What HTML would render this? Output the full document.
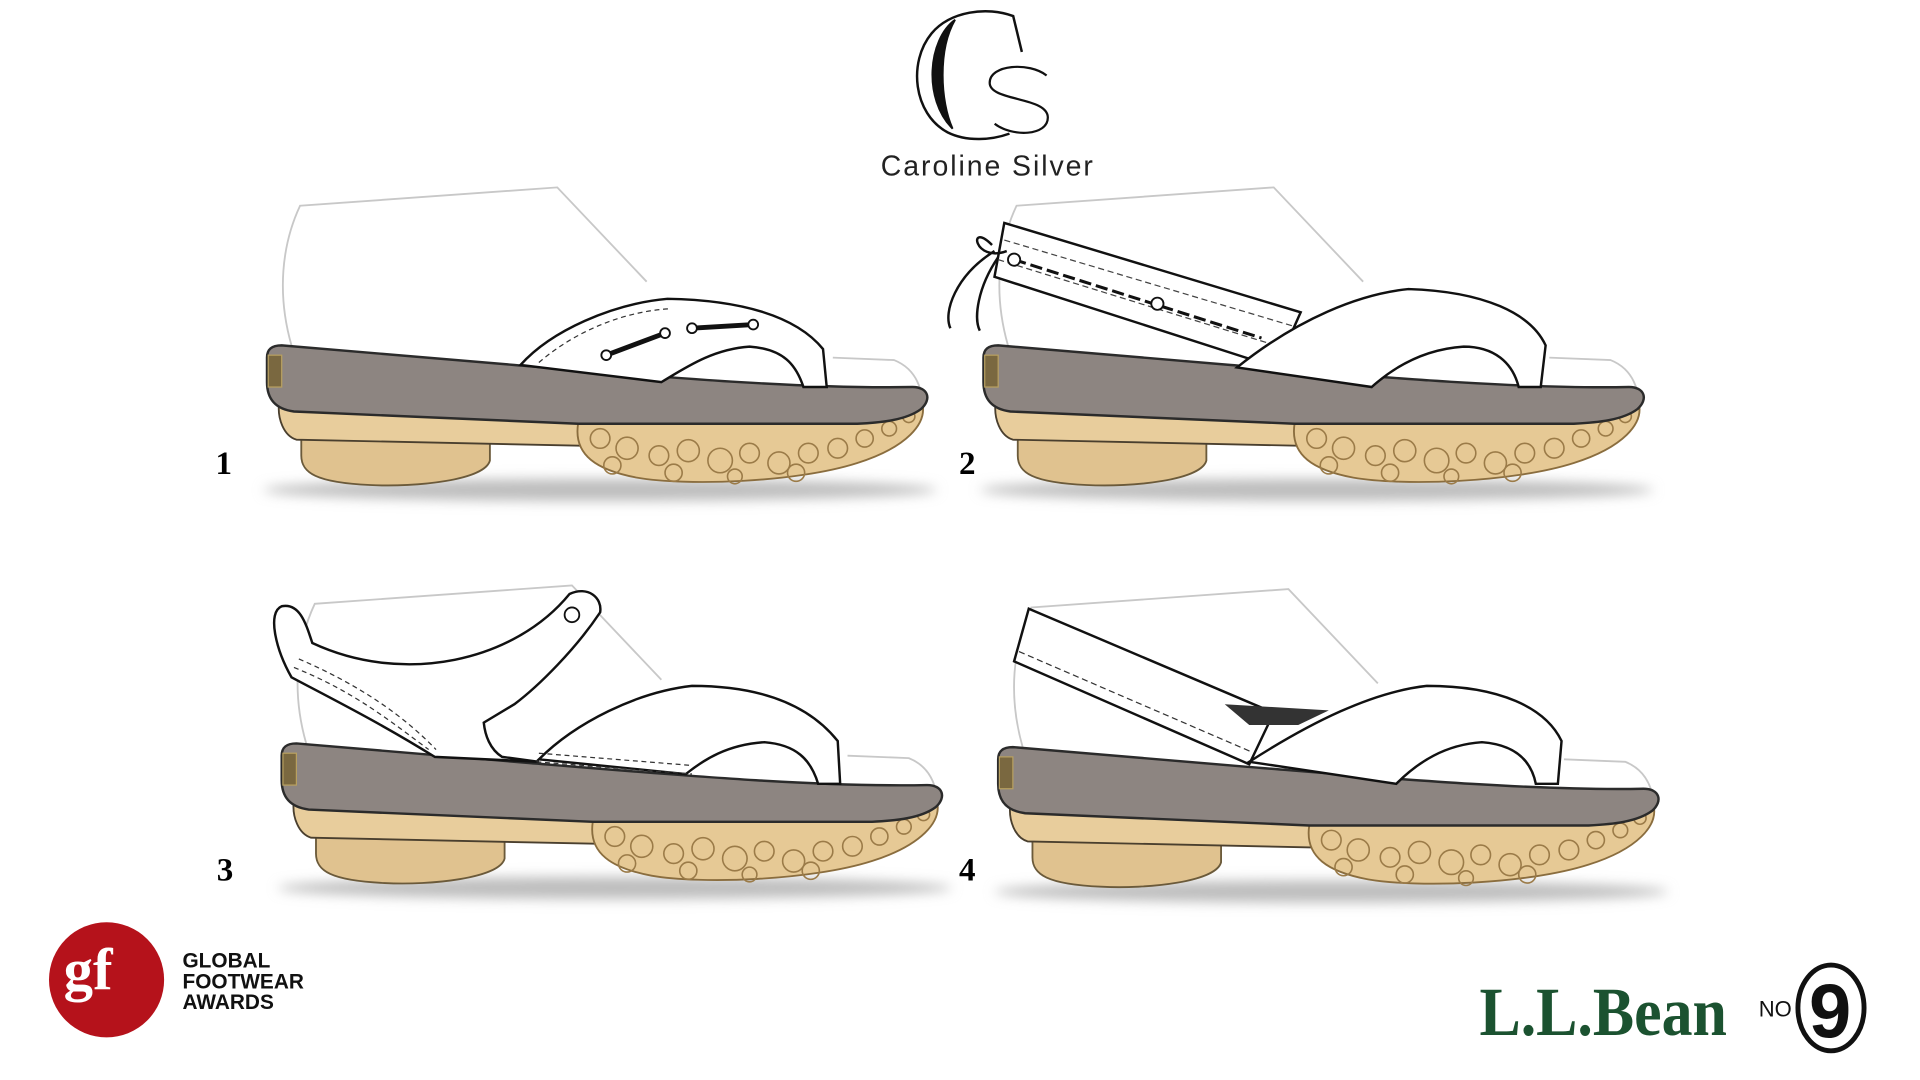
<!DOCTYPE html>
<html><head><meta charset="utf-8"><style>
html,body{margin:0;padding:0;background:#fff;width:1920px;height:1080px;overflow:hidden}
svg{display:block}
</style></head><body>
<svg width="1920" height="1080" viewBox="0 0 1552 873" preserveAspectRatio="none" xmlns="http://www.w3.org/2000/svg">
<defs>
<filter id="bl" x="-20%" y="-200%" width="140%" height="500%"><feGaussianBlur stdDeviation="5"/></filter>
<g id="base">
  <path d="M238,282 C226,240 230,200 245,168 L455,153 L528,230" fill="none" stroke="#c8c8c8" stroke-width="1.5"/>
  <path d="M680,292 L730,294 C745,300 750,312 752,320" fill="none" stroke="#c8c8c8" stroke-width="1.5"/>
  <ellipse cx="490" cy="400" rx="275" ry="9" fill="#bdbdbd" filter="url(#bl)"/>
  <path d="M246,352 L400,356 L400,376 C396,392 340,398 302,396 C258,394 246,386 246,372 Z" fill="#e0c28f" stroke="#6b5a3a" stroke-width="1.5"/>
  <path d="M228,328 L480,345 L478,364 L242,359 C232,356 226,342 228,328 Z" fill="#e8cd9c" stroke="#4a3f2e" stroke-width="1.5"/>
  <path d="M472,346 C560,344 690,338 752,326 C760,346 738,366 700,378 C650,394 560,397 520,390 C488,384 468,372 472,346 Z" fill="#e6c995" stroke="#8a6d3e" stroke-width="1.5"/>
  <g fill="none" stroke="#9b7b48" stroke-width="1.3">
    <circle cx="490" cy="358" r="8"/><circle cx="512" cy="366" r="9"/><circle cx="538" cy="372" r="8"/><circle cx="562" cy="368" r="9"/>
    <circle cx="588" cy="376" r="10"/><circle cx="612" cy="370" r="8"/><circle cx="636" cy="378" r="9"/><circle cx="660" cy="370" r="8"/>
    <circle cx="684" cy="366" r="8"/><circle cx="706" cy="358" r="7"/><circle cx="726" cy="350" r="6"/><circle cx="742" cy="340" r="5"/>
    <circle cx="500" cy="380" r="7"/><circle cx="550" cy="386" r="7"/><circle cx="600" cy="389" r="6"/><circle cx="650" cy="386" r="7"/>
  </g>
  <path d="M218,292 C218,285 222,282 230,282 L420,298 C520,306 650,318 745,316 C758,316 761,326 752,334 C740,343 720,345 700,346 L472,346 L240,336 C225,334 218,326 218,312 Z" fill="#8d8581" stroke="#2b2b2b" stroke-width="2"/>
  <rect x="219" y="290" width="11" height="26" fill="#7a6840" stroke="#b8a060" stroke-width="1"/>
</g>
</defs>

<!-- header logo (unscaled display coords) -->
<path d="M826,42 L819,13 C798,5 768,9 753,27 C734,50 738,92 766,107 C782,115 802,113 816,108" fill="none" stroke="#111" stroke-width="2"/>
<path d="M772,16 C750,32 746,80 770,104 C760,82 758,40 772,16 Z" fill="#111" stroke="#111" stroke-width="1.5"/>
<path d="M846,61 C832,50 800,52 800,67 C800,82 847,78 847,95 C847,110 818,111 804,100" fill="none" stroke="#111" stroke-width="1.8"/>
<text x="712" y="142" font-family="Liberation Sans, sans-serif" font-size="23" letter-spacing="1.6" fill="#222" textLength="173" lengthAdjust="spacing">Caroline Silver</text>

<g transform="scale(0.99)">
<!-- shoe 1 -->
<use href="#base"/>
<path d="M425,298 C450,270 500,248 545,244 C605,245 650,258 672,285 L675,316 L656,316 C650,298 640,285 612,283 C582,285 560,300 540,312 Z" fill="#fff" stroke="#111" stroke-width="2"/>
<path d="M440,296 C470,270 510,254 548,252" fill="none" stroke="#333" stroke-dasharray="4,3"/>
<path d="M495,290 L543,272 M565,268 L615,265" stroke="#111" stroke-width="4"/>
<g fill="#fff" stroke="#111" stroke-width="1.5"><circle cx="495" cy="290" r="4"/><circle cx="543" cy="272" r="4"/><circle cx="565" cy="268" r="4"/><circle cx="615" cy="265" r="4"/></g>
<text x="176" y="387" font-family="Liberation Serif, serif" font-weight="bold" font-size="27">1</text>

<!-- shoe 2 -->
<g transform="translate(585,0)"><use href="#base"/></g>
<path d="M820,182 L1062,255 L1042,300 L812,226 Z" fill="#fff" stroke="#111" stroke-width="2"/>
<path d="M820,196 L1055,266 M815,212 L1048,284" fill="none" stroke="#444" stroke-dasharray="5,3"/>
<path d="M828,212 L1030,276" stroke="#111" stroke-width="2.5" stroke-dasharray="10,4"/>
<g fill="#fff" stroke="#111" stroke-width="1.5"><circle cx="828" cy="212" r="5"/><circle cx="945" cy="248" r="5"/></g>
<path d="M810,200 C790,180 795,215 822,205 M812,205 C780,225 770,255 776,268 M815,210 C798,235 795,260 800,270" fill="none" stroke="#111" stroke-width="2"/>
<path d="M1010,300 C1060,260 1110,240 1150,236 C1212,238 1250,256 1262,282 L1258,316 L1240,316 C1235,296 1220,283 1195,283 C1165,285 1140,298 1120,316 Z" fill="#fff" stroke="#111" stroke-width="2"/>
<text x="783" y="387" font-family="Liberation Serif, serif" font-weight="bold" font-size="27">2</text>

<!-- shoe 3 -->
<g transform="translate(12,325)"><use href="#base"/></g>
<path d="M238,553 C225,530 218,500 230,495 C245,492 250,510 255,525 C330,560 420,540 465,485 C480,478 492,488 490,500 C470,530 440,560 420,575 L395,590 C396,600 400,612 410,618 L440,622 L355,618 C310,590 270,570 238,553 Z" fill="#fff" stroke="#111" stroke-width="2"/>
<path d="M240,545 C290,565 320,590 350,612 M244,538 C295,560 330,585 356,612" fill="none" stroke="#333" stroke-dasharray="4,3"/>
<circle cx="467" cy="502" r="6" fill="#fff" stroke="#111" stroke-width="1.5"/>
<path d="M440,620 C470,590 520,565 565,560 C620,560 660,575 684,605 L686,640 L668,640 C662,620 650,608 624,606 C594,608 575,620 560,632 Z" fill="#fff" stroke="#111" stroke-width="2"/>
<path d="M440,615 L565,625 M438,622 L565,632" stroke="#333" stroke-dasharray="4,3"/>
<text x="177" y="719" font-family="Liberation Serif, serif" font-weight="bold" font-size="27">3</text>

<!-- shoe 4 -->
<g transform="translate(597,328)"><use href="#base"/></g>
<path d="M840,497 L1040,582 L1020,624 L828,540 Z" fill="#fff" stroke="#111" stroke-width="2"/>
<path d="M832,532 L1022,614" stroke="#333" stroke-dasharray="5,3"/>
<path d="M1000,575 L1085,580 L1060,592 L1020,592 Z" fill="#333"/>
<path d="M1020,622 C1070,590 1120,565 1165,560 C1225,560 1262,578 1275,605 L1272,640 L1254,640 C1250,620 1236,608 1210,606 C1180,608 1158,622 1140,640 Z" fill="#fff" stroke="#111" stroke-width="2"/>
<text x="783" y="719" font-family="Liberation Serif, serif" font-weight="bold" font-size="27">4</text>

<!-- GF logo -->
<circle cx="87" cy="800" r="47" fill="#b5121b"/>
<text x="52" y="808" font-family="Liberation Serif, serif" font-weight="bold" font-size="48" fill="#fff">gf</text>
<g font-family="Liberation Sans, sans-serif" font-weight="bold" font-size="17" fill="#111">
<text x="149" y="790">GLOBAL</text><text x="149" y="807">FOOTWEAR</text><text x="149" y="824">AWARDS</text></g>

<!-- LLBean -->
<text x="1208" y="845" font-family="Liberation Serif, serif" font-weight="bold" font-size="56" fill="#1b5230" textLength="202" lengthAdjust="spacingAndGlyphs">L.L.Bean</text>
<text x="1436" y="830" font-family="Liberation Sans, sans-serif" font-size="18" fill="#111">NO</text>
<ellipse cx="1495" cy="823" rx="27" ry="35" fill="none" stroke="#111" stroke-width="4"/>
<text x="1477" y="847" font-family="Liberation Sans, sans-serif" font-weight="bold" font-size="62" fill="#111">9</text>
</g>
</svg>
</body></html>
